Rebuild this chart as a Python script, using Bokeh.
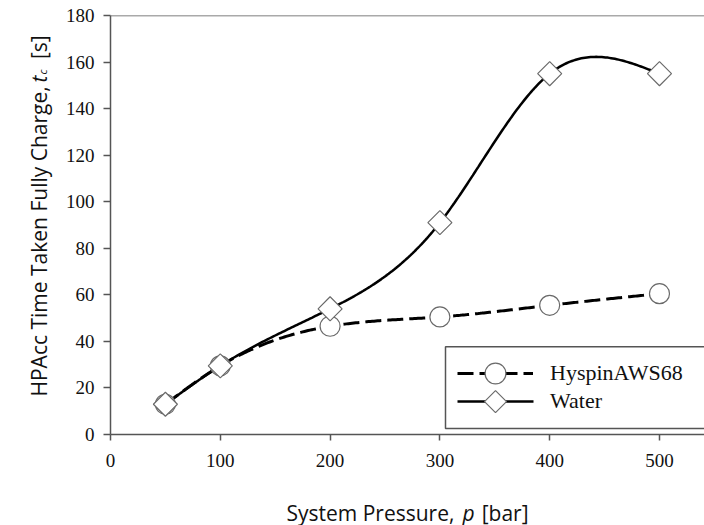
import numpy as np
from bokeh.plotting import figure
from bokeh.models import (Label, Legend, LegendItem, Span, Range1d, FixedTicker,
                          BoxAnnotation, PolyAnnotation)
from bokeh.embed import file_html
from bokeh.resources import INLINE

# ---- data ----
pressure = [50, 100, 200, 300, 400, 500]
hyspin_aws68 = [13, 29.5, 46.5, 50.5, 55.5, 60.5]
water = [13, 29.5, 54, 91, 155, 155]
x_ticks = [0, 100, 200, 300, 400, 500]
y_ticks = [0, 20, 40, 60, 80, 100, 120, 140, 160, 180]
series_names = ["HyspinAWS68", "Water"]


def natural_spline(xs, ys, n=60):
    xs = np.asarray(xs, float)
    ys = np.asarray(ys, float)
    k = len(xs)
    h = np.diff(xs)
    A = np.zeros((k, k))
    r = np.zeros(k)
    A[0, 0] = 1
    A[-1, -1] = 1
    for i in range(1, k - 1):
        A[i, i - 1] = h[i - 1]
        A[i, i] = 2 * (h[i - 1] + h[i])
        A[i, i + 1] = h[i]
        r[i] = 3 * ((ys[i + 1] - ys[i]) / h[i] - (ys[i] - ys[i - 1]) / h[i - 1])
    c = np.linalg.solve(A, r)
    out_x, out_y = [], []
    for i in range(k - 1):
        b = (ys[i + 1] - ys[i]) / h[i] - h[i] * (2 * c[i] + c[i + 1]) / 3
        d = (c[i + 1] - c[i]) / (3 * h[i])
        t = np.linspace(0, h[i], n, endpoint=(i == k - 2))
        out_x.extend(xs[i] + t)
        out_y.extend(ys[i] + b * t + c[i] * t ** 2 + d * t ** 3)
    return out_x, out_y


# ---- layout ----
W, H = 704, 525
LEFT, TOP, BOTTOM = 110, 15, 90
X_END = 541
frame_w = W - LEFT
frame_h = H - TOP - BOTTOM
px_x = frame_w / X_END
px_y = frame_h / 180.0


def dx(px):
    return (px - LEFT) / px_x


def dy(py):
    return (H - BOTTOM - py) / px_y


p = figure(width=W, height=H, output_backend="svg", toolbar_location=None,
           x_range=Range1d(0, X_END), y_range=Range1d(0, 180),
           min_border_left=LEFT, min_border_right=0, min_border_top=TOP,
           min_border_bottom=BOTTOM)
p.outline_line_color = None
p.grid.visible = False
p.background_fill_color = "white"
p.border_fill_color = "white"

axis_col = "#555555"
for ax in (p.xaxis[0], p.yaxis[0]):
    ax.axis_line_color = axis_col
    ax.axis_line_width = 1.5
    ax.major_tick_line_color = axis_col
    ax.major_tick_line_width = 1.5
    ax.major_tick_in = 0
    ax.minor_tick_line_color = None
    ax.major_label_text_font = "Liberation Serif"
    ax.major_label_text_font_size = "19px"
    ax.major_label_text_color = "#111111"
    ax.axis_label = None
p.xaxis[0].ticker = FixedTicker(ticks=x_ticks)
p.yaxis[0].ticker = FixedTicker(ticks=y_ticks)
p.xaxis[0].major_tick_out = 6
p.xaxis[0].major_label_standoff = 13
p.yaxis[0].major_tick_out = 7
p.yaxis[0].major_label_standoff = 9

p.add_layout(Span(location=180, dimension="width", line_color=axis_col, line_width=1.5))

# ---- curves ----
hx, hy = natural_spline(pressure, hyspin_aws68)
wx, wy = natural_spline(pressure, water)

r_hl = p.line(hx, hy, line_color="black", line_width=3, line_dash="16 6")
r_wl = p.line(wx, wy, line_color="black", line_width=2.5)
r_hm = p.scatter(pressure, hyspin_aws68, marker="circle", size=20,
                 fill_color="white", line_color="#6a6a6a", line_width=1.2)
r_wm = p.scatter(pressure, water, marker="square", size=17, angle=np.pi / 4,
                 fill_color="white", line_color="#6a6a6a", line_width=1.2)
# invisible twin of the water line, used for the legend entry (sample drawn below)
r_wl_leg = p.line(wx, wy, line_alpha=0)

# ---- legend: frame box + two single-row bokeh legends ----
p.add_layout(BoxAnnotation(left=dx(445), right=dx(720), top=dy(347), bottom=dy(429),
                           fill_color="white", fill_alpha=1.0,
                           line_color="#555555", line_alpha=1.0, line_width=1.5,
                           level="underlay"))
leg_style = dict(label_text_font="Liberation Serif", label_text_font_size="22px",
                 label_text_color="#111111", glyph_width=76, glyph_height=52,
                 spacing=0, padding=0, margin=0, label_standoff=17,
                 border_line_color=None, background_fill_alpha=0.0)
p.add_layout(Legend(items=[LegendItem(label=series_names[0], renderers=[r_hl, r_hm])],
                    location=(457 - LEFT, H - BOTTOM - 400), **leg_style))
p.add_layout(Legend(items=[LegendItem(label=series_names[1], renderers=[r_wl_leg])],
                    location=(457 - LEFT, H - BOTTOM - 428), **leg_style))
# water legend sample: solid line + diamond marker
lx0, lx1, lcx, lcy, lr = 457, 533, 495, 402, 11
p.add_layout(PolyAnnotation(xs=[dx(lx0), dx(lx1)], ys=[dy(lcy), dy(lcy)],
                            fill_alpha=0.0, line_color="black", line_alpha=1.0,
                            line_width=2.5, level="overlay"))
p.add_layout(PolyAnnotation(xs=[dx(lcx - lr), dx(lcx), dx(lcx + lr), dx(lcx)],
                            ys=[dy(lcy), dy(lcy - lr), dy(lcy), dy(lcy + lr)],
                            fill_color="white", fill_alpha=1.0, level="overlay",
                            line_color="#6a6a6a", line_alpha=1.0, line_width=1.2))

# ---- axis titles (pieces in side panels, canvas pixels) ----
tfont = "Open Sans"
tcol = "#111111"
NB = "\u00a0"


def lab(x, y, text, side, size, style="normal", angle=0.0):
    p.add_layout(Label(x=x, y=y, x_units="canvas", y_units="canvas", text=text,
                       text_font=tfont, text_font_size=size, text_font_style=style,
                       text_color=tcol, text_align="left",
                       text_baseline="alphabetic", angle=angle), side)


base_y = 512
lab(286, base_y, "System Pressure," + NB * 5 + "[bar]", "below", "21px")
lab(462, base_y, "p", "below", "21px", style="italic")

ybx = 38
lab(ybx, 396, "HPAcc Time Taken Fully Charge," + NB * 5 + "[s]", "left", "21px",
    angle=np.pi / 2)
lab(ybx, 82, "t", "left", "21px", style="italic", angle=np.pi / 2)
lab(ybx + 4, 74, "c", "above", "11px", style="italic", angle=np.pi / 2)

open("out.html", "w").write(file_html(p, INLINE))
